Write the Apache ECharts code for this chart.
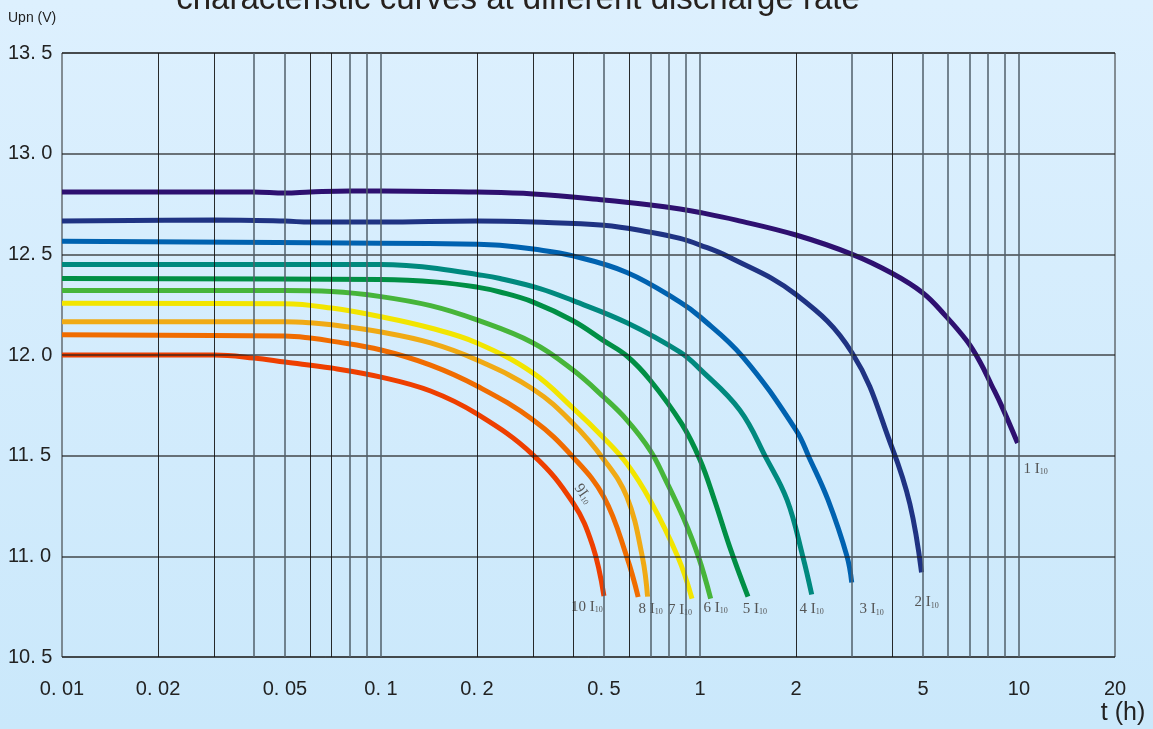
<!DOCTYPE html>
<html><head><meta charset="utf-8">
<script src="https://cdn.jsdelivr.net/npm/echarts@6/dist/echarts.min.js"></script>
<style>html,body{margin:0;padding:0;overflow:hidden}#c{width:1153px;height:729px}</style>
</head><body><div id="c"></div>
<script>
// ---- data (t in hours, U in volts) ----
const titleText = 'characteristic curves at different discharge rate';
const yTicks = [10.5, 11.0, 11.5, 12.0, 12.5, 13.0, 13.5];
const xLabelTicks = [0.01, 0.02, 0.05, 0.1, 0.2, 0.5, 1, 2, 5, 10, 20];
const xGridDark = [0.02, 0.03, 0.06, 0.07, 0.2, 0.3, 0.4, 0.6, 2, 4];
const xGridGray = [0.04, 0.05, 0.08, 0.09, 0.1, 0.5, 0.7, 0.8, 0.9, 1, 3, 5, 6, 7, 8, 9, 10];
const curveNames = ['1 I', '2 I', '3 I', '4 I', '5 I', '6 I', '7 I', '8 I', '9I', '10 I'];
const c1 = [[0.01,12.81],[0.02,12.81],[0.03,12.81],[0.04,12.81],[0.05,12.805],[0.06,12.81],[0.08,12.815],[0.1,12.815],[0.2,12.809],[0.3,12.80],[0.5,12.77],[0.7,12.745],[0.866,12.725],[1,12.708],[1.3,12.67],[2,12.596],[3,12.50],[4,12.406],[5,12.308],[5.86,12.198],[6.87,12.069],[7.55,11.965],[8.2,11.851],[8.8,11.751],[9.9,11.563]];
const c2 = [[0.01,12.665],[0.03,12.67],[0.05,12.665],[0.06,12.66],[0.1,12.66],[0.2,12.665],[0.3,12.66],[0.5,12.645],[0.7,12.61],[0.866,12.579],[1,12.546],[1.22,12.49],[2,12.30],[3,12.01],[4,11.54],[4.55,11.26],[4.95,10.92]];
const c3 = [[0.01,12.565],[0.1,12.555],[0.2,12.55],[0.236,12.545],[0.3,12.526],[0.4,12.492],[0.59,12.41],[0.866,12.263],[1,12.19],[1.364,11.99],[2,11.627],[2.2,11.49],[2.52,11.28],[2.89,11.0],[2.99,10.87]];
const c4 = [[0.01,12.45],[0.1,12.45],[0.12,12.445],[0.15,12.43],[0.2,12.40],[0.236,12.38],[0.315,12.33],[0.4,12.27],[0.59,12.16],[0.866,12.014],[1,11.93],[1.334,11.726],[1.61,11.49],[1.875,11.28],[2.1,11.0],[2.24,10.81]];
const c5 = [[0.01,12.38],[0.1,12.375],[0.15,12.362],[0.2,12.337],[0.236,12.313],[0.3,12.263],[0.4,12.17],[0.5,12.07],[0.59,11.995],[0.697,11.876],[0.875,11.66],[1,11.48],[1.11,11.28],[1.24,11.046],[1.414,10.80]];
const c6 = [[0.01,12.32],[0.05,12.32],[0.07,12.315],[0.1,12.29],[0.143,12.245],[0.2,12.174],[0.3,12.06],[0.4,11.925],[0.5,11.79],[0.59,11.677],[0.697,11.528],[0.78,11.38],[0.885,11.195],[0.99,10.996],[1.08,10.79]];
const c7 = [[0.01,12.257],[0.05,12.255],[0.07,12.233],[0.1,12.19],[0.143,12.134],[0.2,12.06],[0.3,11.91],[0.4,11.736],[0.5,11.587],[0.59,11.46],[0.697,11.28],[0.853,10.996],[0.944,10.79]];
const c8 = [[0.01,12.165],[0.05,12.165],[0.06,12.16],[0.07,12.15],[0.1,12.114],[0.143,12.06],[0.2,11.975],[0.3,11.83],[0.4,11.66],[0.5,11.48],[0.59,11.295],[0.66,10.996],[0.685,10.80]];
const c9 = [[0.01,12.10],[0.05,12.094],[0.06,12.084],[0.07,12.069],[0.1,12.025],[0.143,11.95],[0.2,11.846],[0.3,11.677],[0.4,11.493],[0.5,11.294],[0.59,10.996],[0.64,10.798]];
const c10 = [[0.01,12.0],[0.03,12.0],[0.04,11.985],[0.05,11.965],[0.07,11.935],[0.1,11.89],[0.143,11.821],[0.2,11.707],[0.3,11.503],[0.4,11.265],[0.46,11.056],[0.5,10.803]];

// ---- styles ----
const curves = [c1, c2, c3, c4, c5, c6, c7, c8, c9, c10];
const colors = ['#2e1070', '#1f3383', '#0062b0', '#00897e', '#008f45', '#47b53a', '#f2e500', '#f0aa14', '#f06c00', '#ee3f00'];
const labelOffsets = [[18, 26], [5, 30], [20, 27], [0, 14], [7, 12], [5, 9], [-12, 11], [3, 12], null, [-17, 11]];
const numFont = "'Liberation Sans Narrow', 'Liberation Sans', Arial, sans-serif";
const serif = "'Liberation Serif', 'DejaVu Serif', serif";
const rich = {
  a: { fontFamily: serif, fontSize: 15, color: '#555' },
  b: { fontFamily: serif, fontSize: 8, color: '#555', padding: [6, 0, 0, 0] }
};
function fmtX(v) {
  let best = xLabelTicks[0];
  xLabelTicks.forEach(t => { if (Math.abs(Math.log(t) - Math.log(v)) < Math.abs(Math.log(best) - Math.log(v))) best = t; });
  return String(best).replace('.', '. ');
}

const chart = echarts.init(document.getElementById('c'), null, { renderer: 'canvas' });
const series = curves.map((d, i) => {
  const s = {
    type: 'line', name: curveNames[i] + '10', data: d, xAxisIndex: 0,
    symbol: 'none', smooth: 0.4, z: 3,
    lineStyle: { color: colors[i], width: 5, cap: 'butt' },
    itemStyle: { color: colors[i] }
  };
  if (labelOffsets[i]) {
    s.endLabel = {
      show: true, distance: 0, align: 'center', verticalAlign: 'middle',
      offset: labelOffsets[i],
      formatter: () => '{a|' + curveNames[i] + '}{b|10}', rich: rich
    };
  } else {
    s.markPoint = {
      symbol: 'rect', symbolSize: 1, itemStyle: { color: 'rgba(0,0,0,0)' },
      data: [{ coord: [0.43, 11.31] }],
      label: {
        show: true, position: 'inside', rotate: -55,
        formatter: () => '{a|' + curveNames[i] + '}{b|10}', rich: rich
      }
    };
  }
  return s;
});

chart.setOption({
  animation: false,
  backgroundColor: { type: 'linear', x: 0, y: 0, x2: 0, y2: 1,
    colorStops: [{ offset: 0, color: '#ddf0fe' }, { offset: 1, color: '#cae8fb' }] },
  grid: { left: 62, right: 38, top: 53, bottom: 72, show: true, borderColor: '#2a2a2a', borderWidth: 1, backgroundColor: 'transparent' },
  xAxis: [{
    type: 'log', logBase: 10, min: 0.01, max: 20, position: 'bottom', z: 5,
    axisLine: { show: false }, axisTick: { show: false, customValues: xGridDark },
    splitLine: { show: true, lineStyle: { color: 'rgba(20,20,20,0.9)', width: 1 } },
    axisLabel: { show: true, customValues: xLabelTicks, margin: 22, formatter: fmtX,
      fontFamily: numFont, fontSize: 20, color: '#222' }
  }, {
    type: 'log', logBase: 10, min: 0.01, max: 20, position: 'top', z: 5,
    axisLine: { show: false }, axisTick: { show: false, customValues: xGridGray },
    splitLine: { show: true, lineStyle: { color: 'rgba(80,95,105,0.75)', width: 2 } },
    axisLabel: { show: false }
  }],
  yAxis: {
    type: 'value', min: 10.5, max: 13.5, interval: 0.5, z: 5,
    axisLine: { show: false }, axisTick: { show: false },
    splitLine: { show: true, lineStyle: { color: 'rgba(30,30,30,0.8)', width: 1.5 } },
    axisLabel: { align: 'left', margin: 54, fontFamily: numFont, fontSize: 20, color: '#222',
      formatter: v => v.toFixed(1).replace('.', '. ') }
  },
  graphic: [
    { type: 'text', z: 10, x: 518, y: 0,
      style: { text: titleText, fill: '#26211e', font: "33px 'Liberation Sans', Arial, sans-serif", textAlign: 'center', textVerticalAlign: 'middle' } },
    { type: 'text', z: 10, x: 8, y: 18,
      style: { text: 'Upn (V)', fill: '#222', font: "14px 'Liberation Sans', Arial, sans-serif", textAlign: 'left', textVerticalAlign: 'middle' } },
    { type: 'text', z: 10, x: 1123, y: 713,
      style: { text: 't (h)', fill: '#222', font: "25px 'Liberation Sans', Arial, sans-serif", textAlign: 'center', textVerticalAlign: 'middle' } }
  ],
  series: series
});
</script></body></html>
